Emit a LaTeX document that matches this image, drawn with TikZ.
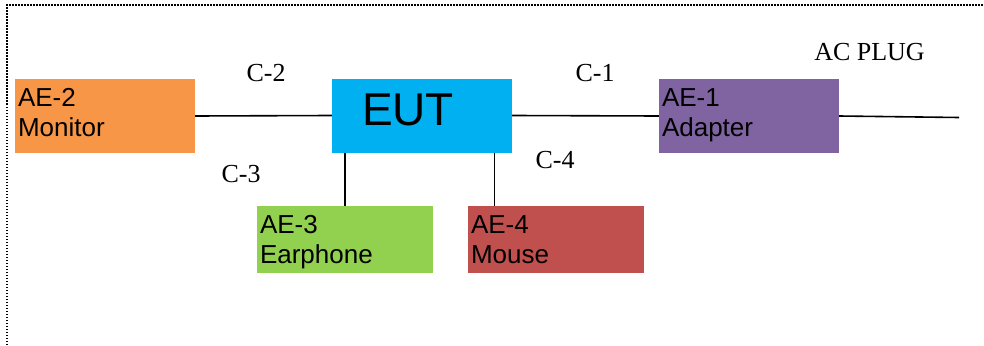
\documentclass[tikz,border=0pt]{standalone}
\usepackage{fontspec}
\setmainfont{Liberation Serif}
\setsansfont{Liberation Sans}
\definecolor{eutblue}{HTML}{00B0F0}
\definecolor{monorange}{HTML}{F79646}
\definecolor{adppurple}{HTML}{8064A2}
\definecolor{earpgreen}{HTML}{92D050}
\definecolor{mousered}{HTML}{C0504D}
\tikzset{
  aebox/.style={rectangle,inner ysep=0pt,inner xsep=3pt,text width=174pt,
    minimum height=74pt,align=left,font=\sffamily\fontsize{26}{30}\selectfont},
  cable/.style={line width=1.6pt},
  cablelbl/.style={inner sep=0pt,font=\fontsize{26}{30}\selectfont}
}
\begin{document}
\begin{tikzpicture}[x=1pt,y=-1pt]
\useasboundingbox (0,0) rectangle (984,345);
% frame
\draw[line width=1.5pt,dash pattern=on 1.5pt off 1.5pt] (7,345) -- (7,5) -- (984,5);
% units
\node[aebox,fill=eutblue,inner xsep=30pt,text width=120pt,text depth=12pt,
  font=\sffamily\fontsize{46}{50}\selectfont] (eut) at (422,115.5) {EUT};
\node[aebox,fill=monorange,text depth=37pt] (monitor) at (105,116) {AE-2\\Monitor};
\node[aebox,fill=adppurple,text depth=37pt] (adapter) at (749,116) {AE-1\\Adapter};
\node[aebox,fill=earpgreen,minimum height=67pt,text width=170pt,text depth=30pt] (earphone) at (345,239.5) {AE-3\\Earphone};
\node[aebox,fill=mousered,minimum height=67pt,text width=170pt,text depth=30pt] (mouse) at (556,239.5) {AE-4\\Mouse};
\coordinate (plug) at (959,117.5);
% cables
\draw[cable] (monitor.east) -- (eut.west);
\draw[cable] (eut.east) -- (adapter.west);
\draw[cable] (adapter.east) -- (plug);
\draw[line width=1.3pt] (earphone.north) -- (earphone.north |- eut.south);
\draw[line width=1.3pt] ([xshift=-18pt]eut.south east) -- ([xshift=-18pt]eut.south east |- mouse.north);
% labels
\node[cablelbl] (c2) at (266,73.5) {C-2};
\node[cablelbl] (c3) at (241,174) {C-3};
\node[cablelbl] (c1) at (595,73.5) {C-1};
\node[cablelbl] (c4) at (555,160) {C-4};
\node[cablelbl] (acplug) at (869.5,52) {AC PLUG};
\end{tikzpicture}
\end{document}
